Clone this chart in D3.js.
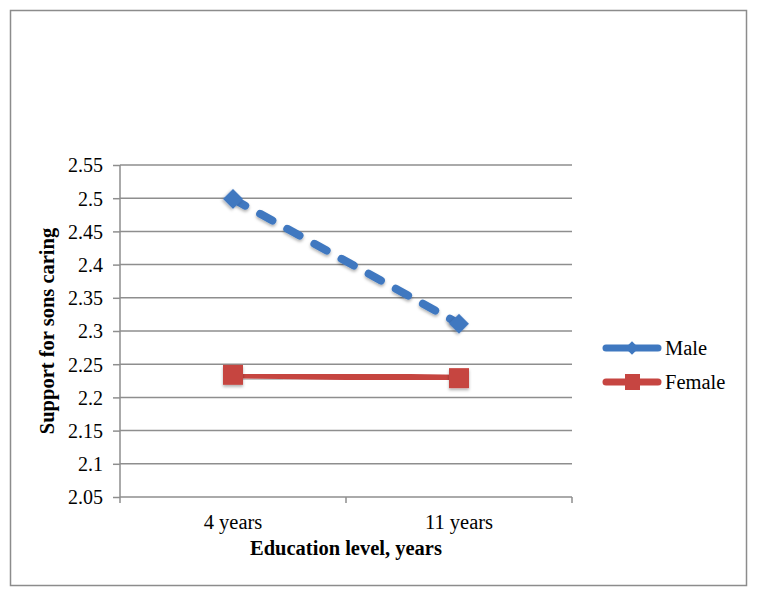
<!DOCTYPE html>
<html>
<head>
<meta charset="utf-8">
<script src="https://cdn.jsdelivr.net/npm/d3@7"></script>
<style>
  body { margin: 0; background: #fff; }
</style>
</head>
<body>
<svg id="chart" width="757" height="598"></svg>
<script>
var categories = ["4 years", "11 years"];
var seriesNames = ["Male", "Female"];
var maleValues = [2.499, 2.311];
var femaleValues = [2.234, 2.229];
var yTicks = [2.05, 2.1, 2.15, 2.2, 2.25, 2.3, 2.35, 2.4, 2.45, 2.5, 2.55];

var svg = d3.select("#chart");
var margin = {left: 120, right: 185, top: 165, bottom: 101};
var width = 757 - margin.left - margin.right;
var height = 598 - margin.top - margin.bottom;
var serif = "'Liberation Serif', 'Times New Roman', serif";
var gridColor = "#8e8e8e";

// outer frame
svg.append("rect")
    .attr("x", 10.5).attr("y", 10.5)
    .attr("width", 736).attr("height", 575)
    .attr("fill", "none").attr("stroke", "#8c8c8c").attr("stroke-width", 1.5);

var defs = svg.append("defs");
var shadow = defs.append("filter").attr("id", "shadow")
    .attr("x", "-20%").attr("y", "-20%").attr("width", "140%").attr("height", "160%");
shadow.append("feDropShadow")
    .attr("dx", 0).attr("dy", 2).attr("stdDeviation", 1.5)
    .attr("flood-color", "#000").attr("flood-opacity", 0.3);

var g = svg.append("g").attr("transform", "translate(" + margin.left + "," + margin.top + ")");

var x = d3.scaleBand().domain(categories).range([0, width]);
var y = d3.scaleLinear().domain([2.05, 2.55]).range([height, 0]);

// gridlines
g.append("g")
    .selectAll("line")
    .data(yTicks.slice(1))
    .enter().append("line")
    .attr("x1", 0).attr("x2", width)
    .attr("y1", function(d) { return y(d); })
    .attr("y2", function(d) { return y(d); })
    .attr("stroke", gridColor).attr("stroke-width", 1.5);

// y axis
var yAxis = g.append("g")
    .call(d3.axisLeft(y).tickValues(yTicks).tickSize(7).tickPadding(10)
        .tickFormat(function(d) { return String(+d.toFixed(2)); }));
yAxis.select(".domain").attr("stroke", gridColor).attr("stroke-width", 1.5)
    .attr("d", "M0," + height + "V0");
yAxis.selectAll(".tick line").attr("stroke", gridColor).attr("stroke-width", 1.5);
yAxis.selectAll(".tick text")
    .style("font-family", serif).style("font-size", "20px")
    .attr("fill", "#000").attr("dy", "0.34em");

// x axis
var xAxis = g.append("g")
    .attr("transform", "translate(0," + height + ")")
    .call(d3.axisBottom(x).tickSize(0).tickPadding(17));
xAxis.select(".domain").attr("stroke", gridColor).attr("stroke-width", 1.5)
    .attr("d", "M0,0H" + width);
xAxis.selectAll(".tick text")
    .style("font-family", serif).style("font-size", "20.5px")
    .attr("fill", "#000");
xAxis.selectAll(".xtick")
    .data([0, width / 2, width])
    .enter().append("line")
    .attr("x1", function(d) { return d; }).attr("x2", function(d) { return d; })
    .attr("y1", 0).attr("y2", 6)
    .attr("stroke", gridColor).attr("stroke-width", 1.5);

// axis titles
svg.append("text")
    .attr("transform", "translate(54," + (margin.top + height / 2) + ") rotate(-90)")
    .attr("text-anchor", "middle")
    .style("font-family", serif)
    .style("font-size", "20.5px").style("font-weight", "bold")
    .text("Support for sons caring");

svg.append("text")
    .attr("x", margin.left + width / 2).attr("y", 555)
    .attr("text-anchor", "middle")
    .style("font-family", serif)
    .style("font-size", "20.5px").style("font-weight", "bold")
    .text("Education level, years");

var cx = function(i) { return x(categories[i]) + x.bandwidth() / 2; };
var line = d3.line()
    .x(function(d, i) { return cx(i); })
    .y(function(d) { return y(d); });

var blue = "#3f78c0";
var red = "#c64541";

// male series
g.append("path")
    .datum(maleValues)
    .attr("d", line)
    .attr("fill", "none").attr("stroke", blue)
    .attr("stroke-width", 8).attr("stroke-linecap", "round")
    .attr("stroke-dasharray", "14,17")
    .attr("filter", "url(#shadow)");

var diamond = d3.symbol().type(d3.symbolSquare).size(200);
g.selectAll(".male")
    .data(maleValues)
    .enter().append("path")
    .attr("class", "male")
    .attr("transform", function(d, i) { return "translate(" + cx(i) + "," + y(d) + ") rotate(45)"; })
    .attr("d", diamond)
    .attr("fill", blue)
    .attr("filter", "url(#shadow)");

// female series
g.append("path")
    .datum(femaleValues)
    .attr("d", line)
    .attr("fill", "none").attr("stroke", red)
    .attr("stroke-width", 7)
    .attr("filter", "url(#shadow)");

g.selectAll(".female")
    .data(femaleValues)
    .enter().append("rect")
    .attr("class", "female")
    .attr("x", function(d, i) { return cx(i) - 10; })
    .attr("y", function(d) { return y(d) - 10; })
    .attr("width", 20).attr("height", 20)
    .attr("fill", red)
    .attr("filter", "url(#shadow)");

// legend
var legend = svg.append("g").attr("transform", "translate(603,348)");
var items = legend.selectAll("g")
    .data(seriesNames)
    .enter().append("g")
    .attr("transform", function(d, i) { return "translate(0," + (i * 34) + ")"; });

items.append("line")
    .attr("x1", 3).attr("x2", 55).attr("y1", 0).attr("y2", 0)
    .attr("stroke", function(d, i) { return i === 0 ? blue : red; })
    .attr("stroke-width", 7).attr("stroke-linecap", "round");

items.each(function(d, i) {
    var item = d3.select(this);
    if (i === 0) {
        item.append("path")
            .attr("transform", "translate(29,0) rotate(45)")
            .attr("d", d3.symbol().type(d3.symbolSquare).size(90))
            .attr("fill", blue);
    } else {
        item.append("rect")
            .attr("x", 22).attr("y", -8).attr("width", 15).attr("height", 16)
            .attr("fill", red);
    }
});

items.append("text")
    .attr("x", 62).attr("y", 7)
    .style("font-family", serif)
    .style("font-size", "20.5px")
    .attr("fill", "#000")
    .text(function(d) { return d; });
</script>
</body>
</html>
